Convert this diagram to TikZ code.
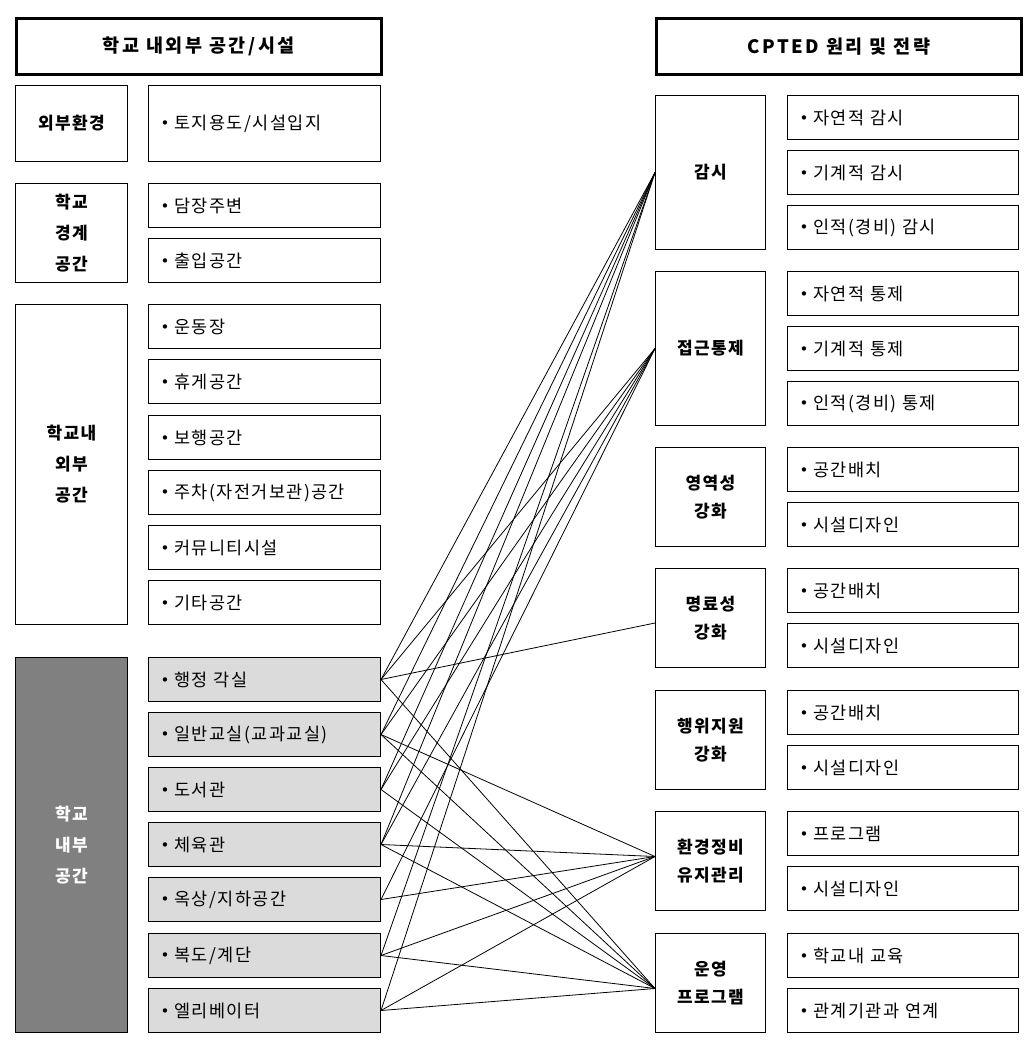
\documentclass[tikz,border=0pt]{standalone}
\usepackage{fontspec}
\setmainfont{Noto Sans CJK KR}[LetterSpace=8]
\newfontfamily\hdrfont{Noto Sans CJK KR}[LetterSpace=14]
\newfontfamily\bulfont{DejaVu Sans}
\newcommand{\bul}{\raisebox{0.5pt}{\bulfont\fontsize{15}{15}\selectfont •}\hspace{5pt}}
\tikzset{
  box/.style={draw, line width=1pt, inner sep=0pt, anchor=north west},
  hdr/.style={box, line width=2.6pt, minimum width=365pt, minimum height=56pt,
    font=\hdrfont\fontsize{18.5}{22}\selectfont\bfseries},
  lcat/.style={box, align=center, minimum width=112pt, font=\fontsize{17}{31}\selectfont\bfseries},
  rcat/.style={box, align=center, minimum width=110pt, font=\fontsize{17}{28}\selectfont\bfseries},
  litem/.style={box, align=left, inner xsep=12pt, text width=208pt, minimum height=44pt,
    font=\fontsize{17.5}{20}\selectfont},
  ritem/.style={box, align=left, inner xsep=12pt, text width=207pt, minimum height=44pt,
    font=\fontsize{17.5}{20}\selectfont},
  gitem/.style={litem, fill=black!14},
  link/.style={line width=0.8pt}
}
\begin{document}
\begin{tikzpicture}[x=1pt,y=1pt]
\useasboundingbox (0,0) rectangle (1034,-1050);
% headers
\node[hdr] (lh) at (15,-17) {학교 내외부 공간/시설};
\node[hdr] (rh) at (655,-17) {CPTED 원리 및 전략};
% left categories
\node[lcat, minimum height=76pt] (c1) at (15,-85) {외부환경};
\node[lcat, minimum height=99pt] (c2) at (15,-183) {학교\\경계\\공간};
\node[lcat, minimum height=320pt] (c3) at (15,-304) {학교내\\외부\\공간};
\node[lcat, minimum height=375pt, fill=black!50, text=white] (c4) at (15,-657) {학교\\내부\\공간};
% left items
\node[litem, minimum height=76pt] (l1) at (148,-85) {\bul 토지용도/시설입지};
\node[litem] (l2) at (148,-183) {\bul 담장주변};
\node[litem] (l3) at (148,-238) {\bul 출입공간};
\node[litem] (l4) at (148,-304) {\bul 운동장};
\node[litem] (l5) at (148,-359) {\bul 휴게공간};
\node[litem] (l6) at (148,-415) {\bul 보행공간};
\node[litem] (l7) at (148,-470) {\bul 주차(자전거보관)공간};
\node[litem] (l8) at (148,-525) {\bul 커뮤니티시설};
\node[litem] (l9) at (148,-580) {\bul 기타공간};
\node[gitem] (i1) at (148,-657) {\bul 행정 각실};
\node[gitem] (i2) at (148,-712) {\bul 일반교실(교과교실)};
\node[gitem] (i3) at (148,-767) {\bul 도서관};
\node[gitem] (i4) at (148,-822) {\bul 체육관};
\node[gitem] (i5) at (148,-877) {\bul 옥상/지하공간};
\node[gitem] (i6) at (148,-933) {\bul 복도/계단};
\node[gitem] (i7) at (148,-988) {\bul 엘리베이터};
% right categories
\node[rcat, minimum height=154pt] (r1) at (655,-95) {감시};
\node[rcat, minimum height=154pt] (r2) at (655,-271) {접근통제};
\node[rcat, minimum height=99pt] (r3) at (655,-447) {영역성\\강화};
\node[rcat, minimum height=99pt] (r4) at (655,-568) {명료성\\강화};
\node[rcat, minimum height=99pt] (r5) at (655,-690) {행위지원\\강화};
\node[rcat, minimum height=99pt] (r6) at (655,-811) {환경정비\\유지관리};
\node[rcat, minimum height=99pt] (r7) at (655,-933) {운영\\프로그램};
% right items
\node[ritem] (s1) at (787,-95) {\bul 자연적 감시};
\node[ritem] (s2) at (787,-150) {\bul 기계적 감시};
\node[ritem] (s3) at (787,-205) {\bul 인적(경비) 감시};
\node[ritem] (s4) at (787,-271) {\bul 자연적 통제};
\node[ritem] (s5) at (787,-326) {\bul 기계적 통제};
\node[ritem] (s6) at (787,-381) {\bul 인적(경비) 통제};
\node[ritem] (s7) at (787,-447) {\bul 공간배치};
\node[ritem] (s8) at (787,-502) {\bul 시설디자인};
\node[ritem] (s9) at (787,-568) {\bul 공간배치};
\node[ritem] (s10) at (787,-623) {\bul 시설디자인};
\node[ritem] (s11) at (787,-690) {\bul 공간배치};
\node[ritem] (s12) at (787,-745) {\bul 시설디자인};
\node[ritem] (s13) at (787,-811) {\bul 프로그램};
\node[ritem] (s14) at (787,-866) {\bul 시설디자인};
\node[ritem] (s15) at (787,-933) {\bul 학교내 교육};
\node[ritem] (s16) at (787,-988) {\bul 관계기관과 연계};
% target points
\coordinate (tA) at (r1.west);
\coordinate (tB) at (r2.west);
\coordinate (tC) at ([yshift=-5pt]r4.west);
\coordinate (tD) at ([yshift=4.5pt]r6.west);
\coordinate (tE) at ([yshift=-5.5pt]r7.west);
% connectors
\foreach \s in {i1,i2,i3,i4,i6,i7} \draw[link] (\s.east) -- (tA);
\foreach \s in {i1,i2,i3,i4,i5} \draw[link] (\s.east) -- (tB);
\draw[link] (i1.east) -- (tC);
\foreach \s in {i2,i4,i5,i6,i7} \draw[link] (\s.east) -- (tD);
\foreach \s in {i1,i2,i3,i4,i6,i7} \draw[link] (\s.east) -- (tE);
\end{tikzpicture}
\end{document}
